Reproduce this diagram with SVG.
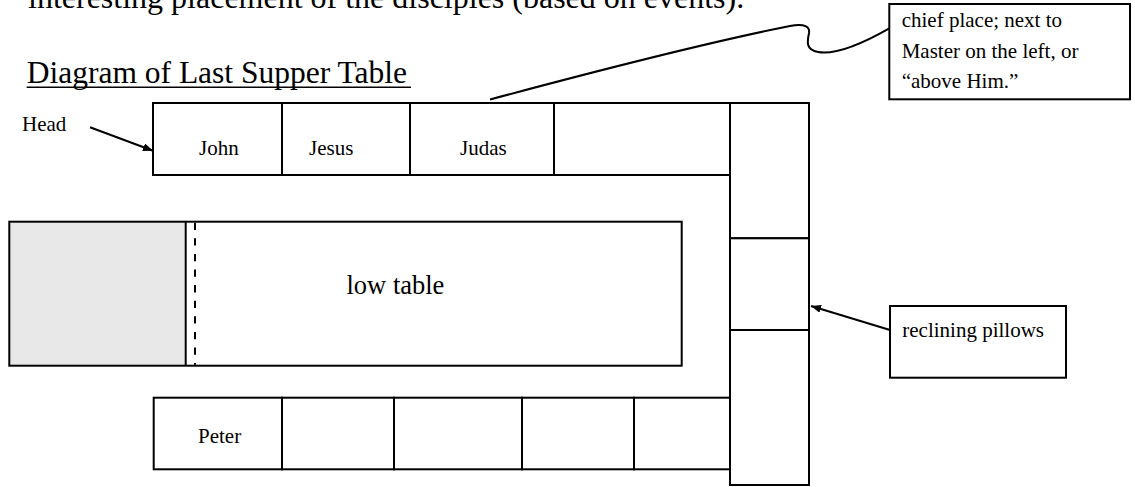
<svg xmlns="http://www.w3.org/2000/svg" width="1135" height="487" viewBox="0 0 1135 487">
  <defs>
    <style>
      .cell { fill: #ffffff; stroke: #000000; stroke-width: 2; }
      .box { fill: #ffffff; stroke: #000000; stroke-width: 2; }
      .txt { font-family: "Liberation Serif", "Times New Roman", serif; fill: #000000; }
      .lbl { font-size: 21px; }
      .big { font-size: 32px; }
      .conn { fill: none; stroke: #000000; stroke-width: 2; }
    </style>
    <marker id="arrow" viewBox="0 0 10 8" refX="10" refY="4" markerWidth="10" markerHeight="8" markerUnits="userSpaceOnUse" orient="auto">
      <path d="M0,0 L10,4 L0,8 Z" fill="#000000"/>
    </marker>
  </defs>
  <rect x="0" y="0" width="1135" height="487" fill="#ffffff"/>

  <g id="intro-text">
    <text class="txt big" x="28" y="8">interesting placement of the disciples (based on events).</text>
  </g>

  <g id="title">
    <text class="txt" x="26.7" y="82.7" font-size="31.5">Diagram of Last Supper Table</text>
    <line x1="26.7" y1="87.3" x2="411" y2="87.3" stroke="#000000" stroke-width="1.6"/>
  </g>

  <g id="head-label">
    <text class="txt lbl" x="22" y="131">Head</text>
  </g>

  <g id="top-row">
    <g id="cell-john">
      <rect class="cell" x="153" y="103" width="129" height="72"/>
      <text class="txt lbl" x="199" y="155">John</text>
    </g>
    <g id="cell-jesus">
      <rect class="cell" x="282" y="103" width="128" height="72"/>
      <text class="txt lbl" x="309" y="155">Jesus</text>
    </g>
    <g id="cell-judas">
      <rect class="cell" x="410" y="103" width="144" height="72"/>
      <text class="txt lbl" x="460" y="155">Judas</text>
    </g>
    <g id="cell-top-4">
      <rect class="cell" x="554" y="103" width="176" height="72"/>
    </g>
  </g>

  <g id="side-column">
    <g id="pillow-1"><rect class="cell" x="730" y="103" width="79" height="135.3"/></g>
    <g id="pillow-2"><rect class="cell" x="730" y="238.3" width="79" height="91.7"/></g>
    <g id="pillow-3"><rect class="cell" x="730" y="330" width="79" height="155"/></g>
  </g>

  <g id="low-table">
    <rect x="9.3" y="221.7" width="176.4" height="144" fill="#e8e8e8"/>
    <rect class="box" x="9.3" y="221.7" width="672.4" height="144" fill="none" style="fill:none"/>
    <line x1="185.7" y1="221.7" x2="185.7" y2="365.7" stroke="#000000" stroke-width="2"/>
    <line x1="195" y1="222.7" x2="195" y2="364.7" stroke="#000000" stroke-width="2" stroke-dasharray="7.3 8.3"/>
    <text class="txt" x="346.5" y="294" font-size="26.5">low table</text>
  </g>

  <g id="bottom-row">
    <g id="cell-peter">
      <rect class="cell" x="153.7" y="397.7" width="128.3" height="71.6"/>
      <text class="txt lbl" x="198" y="443.3">Peter</text>
    </g>
    <g id="cell-bottom-2"><rect class="cell" x="282" y="397.7" width="112" height="71.6"/></g>
    <g id="cell-bottom-3"><rect class="cell" x="394" y="397.7" width="128" height="71.6"/></g>
    <g id="cell-bottom-4"><rect class="cell" x="522" y="397.7" width="112" height="71.6"/></g>
    <g id="cell-bottom-5"><rect class="cell" x="634" y="397.7" width="96" height="71.6"/></g>
  </g>

  <g id="callout-chief">
    <rect class="box" x="889.3" y="4" width="240.7" height="95.3"/>
    <text class="txt lbl" x="901.7" y="27">chief place; next to</text>
    <text class="txt lbl" x="901.7" y="57.5">Master on the left, or</text>
    <text class="txt lbl" x="901.7" y="88">“above Him.”</text>
  </g>

  <g id="callout-pillows">
    <rect class="box" x="890" y="306" width="176" height="71.7"/>
    <text class="txt lbl" x="902.3" y="336.7">reclining pillows</text>
  </g>

  <g id="connectors">
    <line class="conn" x1="90" y1="127.3" x2="153" y2="150.7" marker-end="url(#arrow)"/>
    <line class="conn" x1="890" y1="330" x2="811" y2="306" marker-end="url(#arrow)"/>
    <path class="conn" d="M 490 99.5 C 600 70, 720 40, 790 26 C 805 23, 810 27, 809 33 C 807 42, 806 50, 818 52 C 835 55, 860 45, 889.3 28.3"/>
  </g>
</svg>
